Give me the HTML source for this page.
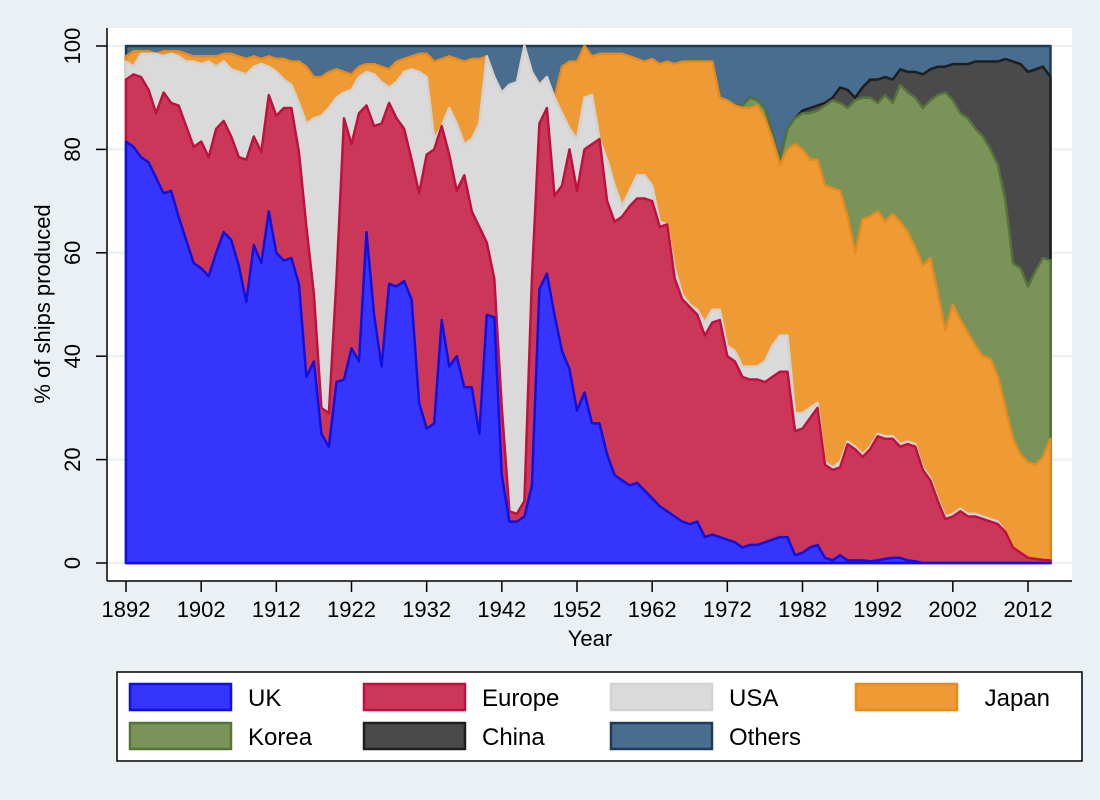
<!DOCTYPE html>
<html><head><meta charset="utf-8"><style>
body{margin:0;background:#eaf0f3;}
svg{display:block;font-family:"Liberation Sans",Arial,sans-serif;}
</style></head><body>
<svg id="chart" width="1100" height="800">
<rect x="0" y="0" width="1100" height="800" fill="#eaf0f3"/>
<rect x="107" y="28" width="965" height="553" fill="#ffffff"/>
<g id="grid"></g>
<g id="areas"></g>
<g id="axes"></g>
<g id="legend"></g>
</svg>
<script>
// x range: 1892..2015 (one value per year)
const startYear = 1892;
const xTicks = [1892, 1902, 1912, 1922, 1932, 1942, 1952, 1962, 1972, 1982, 1992, 2002, 2012];
const yTicks = [0, 20, 40, 60, 80, 100];
const seriesNames = ["UK", "Europe", "USA", "Japan", "Korea", "China", "Others"];
// Cumulative (stacked) upper boundary of each series, in %
const ukTop = [81.5,80.5,78.5,77.5,74.5,71.5,72,67,62.5,58,
57,55.5,60,64,62.5,57.5,50.5,61.5,58,68,
60,58.5,59,54,36,39,25,22.5,35,35.5,
41.5,39,64,48,38,54,53.5,54.5,51,31,
26,27,47,38,40,34,34,25,48,47.5,
17,8,8,9,15,53,56,48,41,37.5,
29.5,33,27,27,21,17,16,15,15.5,14,
12.5,11,10,9,8,7.5,8,5,5.5,5,
4.5,4,3,3.5,3.5,4,4.5,5,5,1.5,
2,3,3.5,1,0.5,1.5,0.5,0.5,0.5,0.3,
0.5,0.8,1,1,0.5,0.3,0,0,0,0,
0,0,0,0,0,0,0,0,0,0,
0,0,0,0];
const europeTop = [93.5,94.5,94,91.5,87,91,89,88.5,84.5,80.5,
81.5,78.5,84,85.5,82.5,78.5,78,82.5,79.5,90.5,
86.5,88,88,79.5,65,52,30,29,55,86,
81,87,88.5,84.5,85,89,86,84,78,71.5,
79,80,84.5,79,72,75,68,65,62,55,
30,10,9.5,12,55,85,88,71,73,80,
72,80,81,82,70,66,67,69,70.5,70.5,
70,65,65.5,55,51,49.5,48,44,46.5,47,
40,39,36,35.5,35.5,35,36,37,37,25.5,
26,28,30,19,18,18.5,23,22,20.5,22,
24.5,24,24,22.5,23,22.5,18,16,12,8.5,
9,10,9,9,8.5,8,7.5,6,3,2,
1,0.8,0.6,0.5];
const usaTop = [97,96,98.5,98.5,98.5,98,98.5,98,97,97,
96.5,97,96,97,95.5,95,94.5,96,96.5,96,
95,93.5,92.5,89,85,86,86.5,88,90,91,
91.5,94,95,94.5,93,92,93,95,95.5,95,
94,82,82,88,85,81,82,85,98,94,
91,92.5,93,100,95,92.5,94,90,87,84,
82,90,90.5,80,78,73,69,72,75,75,
73,66,65,57,52,50,49,46.5,49,49,
42,41,38,38,38,39,42,44,44,29,
29,30,31,19.5,18.5,19.5,23.5,22.5,21,22.5,
25,24.5,24.5,23,23.5,23,18.5,16.5,12.5,9,
9.5,10.5,9.5,9.5,9,8.5,8,6,3,2,
1,0.8,0.6,0.5];
const japanTop = [98,99,99,99,98.5,99,99,99,98.5,98,
98,98,98,98.5,98.5,98,97.5,98,97.5,98,
97.5,97.5,97,97,96,94,94,95,95.5,95,
94.5,96,96.5,96.5,96,95.5,97,97.5,98,98.5,
98.5,97,97.5,98,97.5,97,97.5,97.5,98,94,
91,92.5,93,100,95,92.5,94,90,96,97,
97,100,98,98.5,98.5,98.5,98.5,98,97.5,97,
97.5,96.5,97,96.5,97,97,97,97,97,90,
89.5,88.5,88,88,88.5,86,82,77,80,81,
80,78,78,73,72.5,72,67,60,66.5,67,
68,66,67.5,66,64,61,57.5,59,52,45,
50,47,44.5,42,40,39.5,36,30,24,21,
19.5,19,20.5,24];
// Korea series begins 1972, China series begins 1982
const koreaStartYear = 1972;
const koreaTop = [89.5,88.5,88.5,90,89.5,88,83,78,84,86,
87,87,87.5,88.5,89.5,89,88,89.5,90,90,
89,90.5,89,92.5,91,90,88,89.5,90.5,91,
89.5,87,86,84,82.5,80,77,70,58,57,
53.5,56.5,59,58.5];
const chinaStartYear = 1982;
const chinaTop = [87.5,88,88.5,89,90,92,91.5,90,92,93.5,
93.5,94,93.5,95.5,95,95,94.5,95.5,96,96,
96.5,96.5,96.5,97,97,97,97,97.5,97,96.5,
95,95.5,96,94];

const fills = ["#3535fd","#cb3759","#dadada","#ee9b36","#7a9358","#4a4a4a","#486d8e"];
const strokes = ["#1010e0","#c2103e","#d2d2d2","#e98a1c","#56743a","#1e1e1e","#1d3c5a"];

const X0 = 126, X1 = 1028, Y0 = 563, Y1 = 46;
function xs(yr){ return X0 + (yr - 1892) * (X1 - X0) / (2012 - 1892); }
function ys(v){ return Y0 - v * (Y0 - Y1) / 100; }
const NS = "http://www.w3.org/2000/svg";
const n = ukTop.length;

// build cumulative levels
const levels = [];
levels.push(ukTop.map(v=>v));
levels.push(europeTop.map((v,i)=>Math.max(v, levels[0][i])));
levels.push(usaTop.map((v,i)=>Math.max(v, levels[1][i])));
levels.push(japanTop.map((v,i)=>Math.max(v, levels[2][i])));
const kLev = [], cLev = [];
for (let i=0;i<n;i++){
  const yr = startYear+i;
  const ki = yr - koreaStartYear;
  kLev.push(ki>=0 && ki<koreaTop.length ? Math.max(koreaTop[ki], levels[3][i]) : levels[3][i]);
}
levels.push(kLev);
for (let i=0;i<n;i++){
  const yr = startYear+i;
  const ci = yr - chinaStartYear;
  cLev.push(ci>=0 && ci<chinaTop.length ? Math.max(chinaTop[ci], kLev[i]) : kLev[i]);
}
levels.push(cLev);
levels.push(ukTop.map(()=>100));

// grid
const grid = document.getElementById('grid');
yTicks.forEach(t=>{
  const l = document.createElementNS(NS,'line');
  l.setAttribute('x1',107); l.setAttribute('x2',1072);
  l.setAttribute('y1',ys(t)); l.setAttribute('y2',ys(t));
  l.setAttribute('stroke','#eaf0f3'); l.setAttribute('stroke-width','2');
  
  
  grid.appendChild(l);
});

// areas (draw top series first so lower areas paint over)
const areas = document.getElementById('areas');
for (let s=levels.length-1; s>=0; s--){
  let d = "";
  for (let i=0;i<n;i++){ d += (i?"L":"M") + xs(startYear+i).toFixed(1) + "," + ys(levels[s][i]).toFixed(1); }
  d += "L" + xs(startYear+n-1).toFixed(1) + "," + ys(0) + "L" + xs(startYear).toFixed(1) + "," + ys(0) + "Z";
  const p = document.createElementNS(NS,'path');
  p.setAttribute('d', d);
  p.setAttribute('fill', fills[s]);
  p.setAttribute('stroke', strokes[s]);
  p.setAttribute('stroke-width', '2.5');
  p.setAttribute('stroke-linejoin','round');
  
  
  areas.appendChild(p);
}

// axes
const axes = document.getElementById('axes');
function addLine(x1,y1,x2,y2,name){
  const l = document.createElementNS(NS,'line');
  l.setAttribute('x1',x1); l.setAttribute('y1',y1); l.setAttribute('x2',x2); l.setAttribute('y2',y2);
  l.setAttribute('stroke','#000'); l.setAttribute('stroke-width','1.5');
  
  
  axes.appendChild(l);
}
function addText(x,y,str,name,size,rot){
  const t = document.createElementNS(NS,'text');
  t.setAttribute('x',x); t.setAttribute('y',y);
  t.setAttribute('font-size',size); t.setAttribute('text-anchor','middle');
  t.setAttribute('fill','#000');
  if (rot) t.setAttribute('transform','rotate(-90 '+x+' '+y+')');
  t.textContent = str;
  
  
  axes.appendChild(t);
}
addLine(107,28,107,581,'y-axis-line');
addLine(107,581,1072,581,'x-axis-line');
yTicks.forEach(t=>{
  addLine(96,ys(t),107,ys(t),'y-tick-'+t);
  addText(80,ys(t),String(t),'y-tick-label-'+t,22,true);
});
xTicks.forEach(t=>{
  addLine(xs(t),581,xs(t),592,'x-tick-'+t);
  addText(xs(t),617,String(t),'x-tick-label-'+t,22,false);
});
addText(590,646,'Year','x-axis-title',22,false);
addText(50,304,'% of ships produced','y-axis-title',22,true);

// legend
const lg = document.getElementById('legend');
const box = document.createElementNS(NS,'rect');
box.setAttribute('x',117); box.setAttribute('y',672); box.setAttribute('width',965); box.setAttribute('height',89);
box.setAttribute('fill','#fff'); box.setAttribute('stroke','#000'); box.setAttribute('stroke-width','1.5');


lg.appendChild(box);
const colX = [129, 363, 610, 855];
const rowY = [683, 722];
for (let k=0;k<7;k++){
  const cx = colX[k%4], cy = rowY[Math.floor(k/4)];
  const g = document.createElementNS(NS,'g');
  
  
  const r = document.createElementNS(NS,'rect');
  r.setAttribute('x',cx+1); r.setAttribute('y',cy+1); r.setAttribute('width',101); r.setAttribute('height',26);
  r.setAttribute('fill',fills[k]); r.setAttribute('stroke',strokes[k]); r.setAttribute('stroke-width','2.5');
  
  
  g.appendChild(r);
  const t = document.createElementNS(NS,'text');
  const tx = (k%4===3) ? 1050 : cx+119;
  t.setAttribute('x',tx); t.setAttribute('y',cy+23);
  t.setAttribute('font-size',24);
  t.setAttribute('text-anchor', (k%4===3) ? 'end' : 'start');
  t.textContent = seriesNames[k];
  
  
  g.appendChild(t);
  lg.appendChild(g);
}
</script>
</body></html>
